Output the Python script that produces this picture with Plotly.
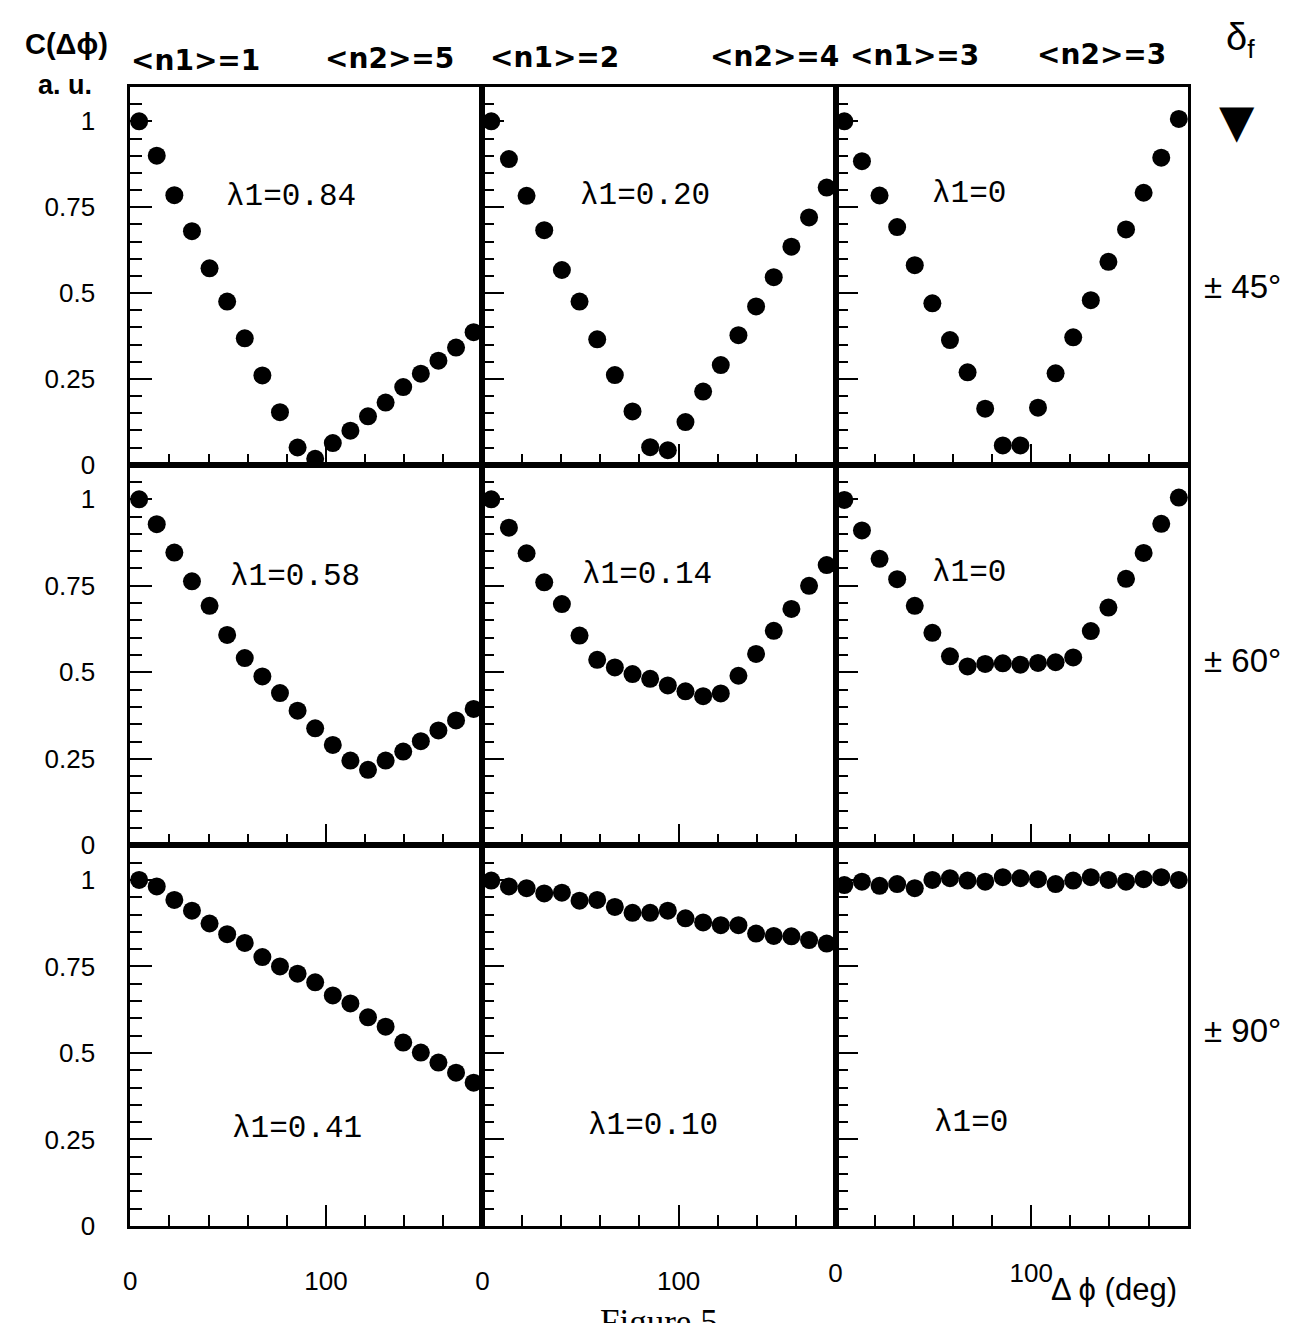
import plotly.graph_objects as go

W, H = 1307, 1323

# bin centres of delta-phi (deg)
dphi = [4.5, 13.5, 22.5, 31.5, 40.5, 49.5, 58.5, 67.5, 76.5, 85.5,
        94.5, 103.5, 112.5, 121.5, 130.5, 139.5, 148.5, 157.5, 166.5, 175.5]

# row delta_f = +-45 deg
c45_n1_1 = [1.00, 0.90, 0.785, 0.68, 0.572, 0.475, 0.368, 0.26, 0.153, 0.05,
            0.017, 0.063, 0.099, 0.141, 0.181, 0.226, 0.265, 0.303, 0.341, 0.386]
c45_n1_2 = [1.00, 0.89, 0.783, 0.683, 0.567, 0.475, 0.365, 0.261, 0.155, 0.051,
            0.042, 0.124, 0.213, 0.29, 0.377, 0.461, 0.546, 0.635, 0.72, 0.807]
c45_n1_3 = [1.00, 0.884, 0.784, 0.692, 0.581, 0.47, 0.363, 0.269, 0.163, 0.056,
            0.056, 0.166, 0.266, 0.371, 0.479, 0.591, 0.685, 0.792, 0.894, 1.007]
# row delta_f = +-60 deg
c60_n1_1 = [1.00, 0.928, 0.846, 0.763, 0.692, 0.608, 0.541, 0.488, 0.44, 0.389,
            0.338, 0.29, 0.245, 0.218, 0.245, 0.271, 0.301, 0.332, 0.361, 0.394]
c60_n1_2 = [1.00, 0.918, 0.844, 0.76, 0.697, 0.606, 0.536, 0.514, 0.495, 0.481,
            0.462, 0.445, 0.431, 0.439, 0.49, 0.553, 0.62, 0.683, 0.75, 0.81]
c60_n1_3 = [0.998, 0.91, 0.828, 0.769, 0.692, 0.614, 0.546, 0.517, 0.524, 0.526,
            0.522, 0.527, 0.529, 0.543, 0.619, 0.687, 0.77, 0.845, 0.929, 1.005]
# row delta_f = +-90 deg
c90_n1_1 = [1.00, 0.981, 0.942, 0.911, 0.874, 0.843, 0.818, 0.777, 0.75, 0.729,
            0.704, 0.666, 0.643, 0.603, 0.576, 0.53, 0.501, 0.472, 0.443, 0.414]
c90_n1_2 = [0.998, 0.981, 0.976, 0.961, 0.963, 0.94, 0.942, 0.922, 0.905, 0.905,
            0.911, 0.889, 0.877, 0.869, 0.869, 0.845, 0.838, 0.837, 0.826, 0.816]
c90_n1_3 = [0.985, 0.995, 0.983, 0.988, 0.976, 1.00, 1.005, 0.998, 0.995, 1.008,
            1.005, 1.002, 0.988, 0.998, 1.008, 1.00, 0.995, 1.002, 1.008, 1.00]

panels = [[c45_n1_1, c45_n1_2, c45_n1_3],
          [c60_n1_1, c60_n1_2, c60_n1_3],
          [c90_n1_1, c90_n1_2, c90_n1_3]]

lambda_labels = [["λ1=0.84", "λ1=0.20", "λ1=0"],
                 ["λ1=0.58", "λ1=0.14", "λ1=0"],
                 ["λ1=0.41", "λ1=0.10", "λ1=0"]]
lambda_pos = [[(82, 0.78), (83, 0.785), (68, 0.79)],
              [(84, 0.777), (84, 0.783), (68, 0.789)],
              [(85, 0.283), (87, 0.29), (69, 0.30)]]

headers = ["<n1>=1", "<n2>=5", "<n1>=2", "<n2>=4", "<n1>=3", "<n2>=3"]
header_x = [190, 385, 550, 772, 912, 1100]
header_y = [61, 59, 58, 57, 56, 55]

delta_f_labels = ["± 45°", "± 60°", "± 90°"]
delta_f_y = [290, 668, 1042]

x_ticks = [0, 100]
y_ticks = [0, 0.25, 0.5, 0.75, 1]
y_tick_text = ["0", "0.25", "0.5", "0.75", "1"]

col_px = [(124, 478), (478, 833), (833, 1187)]
row_px = [(88, 470), (470, 855), (855, 1240)]
x_label_standoff = [30, 30, 22]


def fx(p):
    return p / W


def fy(p):
    return 1 - p / H


fig = go.Figure()
layout = {}
annotations = []
for r in range(3):
    for c in range(3):
        k = r * 3 + c + 1
        xa = "x" if k == 1 else f"x{k}"
        ya = "y" if k == 1 else f"y{k}"
        fig.add_trace(go.Scatter(
            x=dphi, y=panels[r][c], mode="markers",
            marker=dict(color="black", size=18, line=dict(width=0)),
            xaxis=xa, yaxis=ya, showlegend=False, cliponaxis=False))
        xkey = "xaxis" if k == 1 else f"xaxis{k}"
        ykey = "yaxis" if k == 1 else f"yaxis{k}"
        layout[xkey] = dict(
            domain=[fx(col_px[c][0]), fx(col_px[c][1])], anchor=ya,
            range=[0, 180], showgrid=False, zeroline=False,
            showline=True, linecolor="black", linewidth=3, mirror=True,
            ticks="inside", ticklen=21, tickwidth=2, tickcolor="black",
            tickvals=x_ticks, ticktext=[str(v) for v in x_ticks],
            showticklabels=(r == 2),
            tickfont=dict(family="Liberation Sans", size=26, color="black"),
            ticklabelstandoff=x_label_standoff[c],
            minor=dict(ticks="inside", ticklen=11, tickwidth=2, tickcolor="black", dtick=20, tick0=0),
        )
        layout[ykey] = dict(
            domain=[fy(row_px[r][1]), fy(row_px[r][0])], anchor=xa,
            range=[0, 1.1], showgrid=False, zeroline=False,
            showline=True, linecolor="black", linewidth=3, mirror=True,
            ticks="inside", ticklen=22, tickwidth=2, tickcolor="black",
            tickvals=y_ticks, ticktext=y_tick_text,
            showticklabels=(c == 0),
            tickfont=dict(family="Liberation Sans", size=26, color="black"),
            ticklabelstandoff=27,
            minor=dict(ticks="inside", ticklen=12, tickwidth=2, tickcolor="black", dtick=0.05, tick0=0),
        )
        lx, ly = lambda_pos[r][c]
        annotations.append(dict(
            x=lx, y=ly, xref=xa, yref=ya, text=lambda_labels[r][c], showarrow=False,
            font=dict(family="Liberation Mono", size=31, color="black"),
            xanchor="center", yanchor="middle"))

for t, px, py in zip(headers, header_x, header_y):
    annotations.append(dict(x=fx(px), y=fy(py), xref="paper", yref="paper", text=t,
                            showarrow=False, xanchor="center", yanchor="middle",
                            font=dict(family="DejaVu Sans", size=28, color="black", weight="bold")))

for t, py in zip(delta_f_labels, delta_f_y):
    annotations.append(dict(x=fx(1242), y=fy(py), xref="paper", yref="paper", text=t,
                            showarrow=False, xanchor="center", yanchor="middle",
                            font=dict(family="Liberation Sans", size=33, color="black")))

extra = [
    ("C(Δϕ)", 60, 45, 29, "bold", "Liberation Sans"),
    ("a. u.", 58, 86, 27, "bold", "Liberation Sans"),
    ("δ<sub>f</sub>", 1240, 40, 38, "normal", "Liberation Sans"),
    ("▼", 1237, 122, 46, "normal", "DejaVu Sans"),
    ("Δ ϕ (deg)", 1113, 1304, 31, "normal", "Liberation Sans"),
]
for t, px, py, s, wgt, fam in extra:
    annotations.append(dict(x=fx(px), y=fy(py), xref="paper", yref="paper", text=t,
                            showarrow=False, xanchor="center", yanchor="middle",
                            font=dict(family=fam, size=s, color="black", weight=wgt)))

annotations.append(dict(x=fx(656), y=fy(1316), xref="paper", yref="paper", text="Figure 5",
                        showarrow=False, xanchor="center", yanchor="top",
                        font=dict(family="Liberation Serif", size=35, color="black")))

fig.update_layout(width=W, height=H, margin=dict(l=0, r=0, t=0, b=0),
                  paper_bgcolor="white", plot_bgcolor="white",
                  annotations=annotations, **layout)

fig.write_html("out.html")
